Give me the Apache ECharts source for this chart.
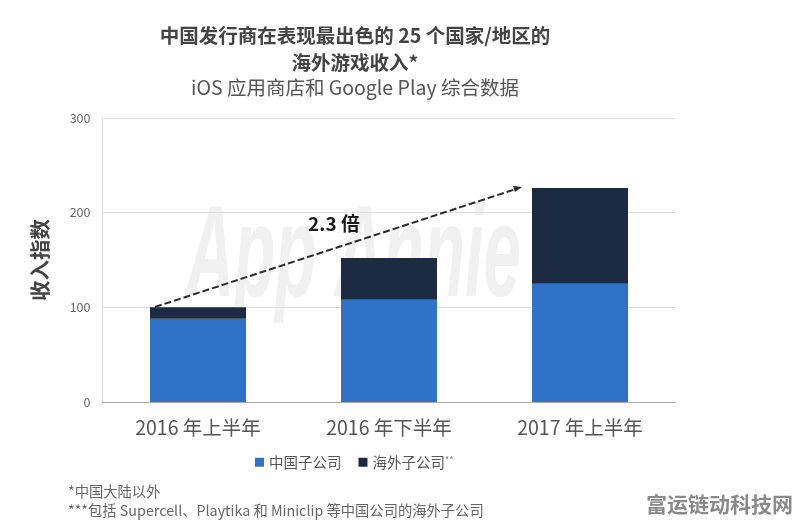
<!DOCTYPE html>
<html>
<head>
<meta charset="utf-8">
<style>html,body{margin:0;padding:0;background:#fff}#main{width:796px;height:523px}</style>
<script src="https://cdn.jsdelivr.net/npm/echarts@6/dist/echarts.min.js"></script>
</head>
<body>
<div id="main"></div>
<script>
var categories = ['2016 年上半年', '2016 年下半年', '2017 年上半年'];
var chinaValues = [88, 108, 125];
var overseasValues = [12, 44, 101];
var yTicks = [0, 100, 200, 300];

var cjk = '"Noto Sans CJK SC", sans-serif';
var chart = echarts.init(document.getElementById('main'));

var option = {
    backgroundColor: '#fff',
    animation: false,
    textStyle: {fontFamily: cjk},
    title: [
        {text: '中国发行商在表现最出色的 25 个国家/地区的', left: 350, top: 21, textAlign: 'center',
            textStyle: {fontSize: 19.5, fontWeight: 'bold', color: '#444', fontFamily: cjk}},
        {text: '海外游戏收入*', left: 350, top: 48, textAlign: 'center',
            textStyle: {fontSize: 19.5, fontWeight: 'bold', color: '#444', fontFamily: cjk}},
        {text: 'iOS 应用商店和 Google Play 综合数据', left: 350, top: 73, textAlign: 'center',
            textStyle: {fontSize: 19.5, fontWeight: 'normal', color: '#555', fontFamily: cjk}}
    ],
    legend: {
        left: 250,
        top: 450,
        itemWidth: 9,
        itemHeight: 9,
        itemGap: 17,
        icon: 'rect',
        data: ['中国子公司', '海外子公司'],
        formatter: function (name) {
            return name === '海外子公司' ? name + '{s|**}' : name;
        },
        textStyle: {
            fontSize: 14.5,
            color: '#555',
            fontFamily: cjk,
            rich: {s: {fontSize: 9, color: '#777', verticalAlign: 'top'}}
        }
    },
    grid: {left: 102.5, right: 120.5, top: 118, bottom: 121},
    xAxis: {
        type: 'category',
        data: categories,
        axisTick: {show: false},
        axisLine: {lineStyle: {color: '#aaa'}},
        axisLabel: {fontSize: 19.5, color: '#555', margin: 16}
    },
    yAxis: {
        type: 'value',
        min: yTicks[0],
        max: yTicks[yTicks.length - 1],
        interval: yTicks[1] - yTicks[0],
        name: '收入指数',
        nameLocation: 'middle',
        nameGap: 52,
        nameTextStyle: {fontSize: 20.5, fontWeight: 'bold', color: '#444'},
        axisLine: {show: true, lineStyle: {color: '#ddd'}},
        axisTick: {show: false},
        axisLabel: {fontSize: 12.5, color: '#666', margin: 12},
        splitLine: {lineStyle: {color: '#ddd'}}
    },
    series: [
        {name: '中国子公司', type: 'bar', stack: 'total', barWidth: 96, data: chinaValues,
            itemStyle: {color: '#3072c8'}},
        {name: '海外子公司', type: 'bar', stack: 'total', barWidth: 96, data: overseasValues,
            itemStyle: {color: '#1c2b42'}}
    ],
    graphic: [
        // 水印
        {type: 'text', left: 186, top: 195, z: 0, silent: true, scaleX: 0.515,
            style: {text: 'App Annie', font: 'italic bold 130px "Liberation Sans"', fill: '#f0f0f0'}},
        // 箭头
        {type: 'line', z: 10, shape: {x1: 155, y1: 307, x2: 516, y2: 189},
            style: {stroke: '#2b2b2b', lineWidth: 2, lineDash: [7, 3]}},
        {type: 'polygon', z: 10, shape: {points: [[522, 187], [513, 186], [515, 192]]},
            style: {fill: '#2b2b2b'}},
        {type: 'text', left: 308, top: 214, z: 10,
            style: {text: '2.3 倍', font: 'bold 19px "Noto Sans CJK SC"', fill: '#1a1a1a'}},
        // 脚注
        {type: 'text', left: 68, top: 484,
            style: {text: '*中国大陆以外', font: '14.3px "Noto Sans CJK SC"', fill: '#666'}},
        {type: 'text', left: 68, top: 503,
            style: {text: '***包括 Supercell、Playtika 和 Miniclip 等中国公司的海外子公司', font: '14.3px "Noto Sans CJK SC"', fill: '#666'}},
        {type: 'text', left: 646, top: 494,
            style: {text: '富运链动科技网', font: 'bold 21px "Noto Sans CJK SC"', fill: '#8a8a8a'}}
    ]
};
chart.setOption(option);
</script>
</body>
</html>
